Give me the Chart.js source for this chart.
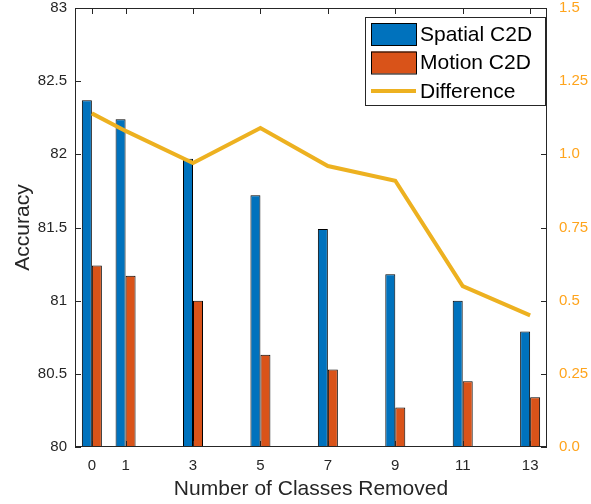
<!DOCTYPE html>
<html>
<head>
<meta charset="utf-8">
<script src="https://cdn.jsdelivr.net/npm/chart.js@4"></script>
<style>
  body { margin: 0; background: #fff; }
  canvas { display: block; }
</style>
</head>
<body>
<canvas id="chart" width="591" height="504"></canvas>
<script>
const classesRemoved = [0, 1, 3, 5, 7, 9, 11, 13];
const spatialAcc = [82.37, 82.24, 81.97, 81.72, 81.49, 81.18, 81.00, 80.79];
const motionAcc = [81.24, 81.17, 81.00, 80.63, 80.53, 80.27, 80.45, 80.34];
const difference = [1.14, 1.08, 0.97, 1.09, 0.96, 0.91, 0.55, 0.45];
const leftTicks = [80, 80.5, 81, 81.5, 82, 82.5, 83];
const leftTickLabels = ['80', '80.5', '81', '81.5', '82', '82.5', '83'];
const rightTicks = [0, 0.25, 0.5, 0.75, 1, 1.25, 1.5];
const rightTickLabels = ['0.0', '0.25', '0.5', '0.75', '1.0', '1.25', '1.5'];

const FONT = "'Liberation Sans', Arial, Helvetica, sans-serif";
const AXIS = '#262626';
const RIGHT = '#FFA41C';

const toPoints = (ys) => classesRemoved.map((x, i) => ({ x: x, y: ys[i] }));

// fixed axis sizes, and no extra padding for overhanging labels
const fixSize = (w, h) => (s) => {
    if (w) s.width = w;
    if (h) s.height = h;
    s.paddingTop = s.paddingBottom = s.paddingLeft = s.paddingRight = 0;
};

// box around the plot with inward tick marks, MATLAB style
const boxPlugin = {
    id: 'box',
    afterDatasetsDraw(chart) {
        const { ctx, chartArea: a, scales } = chart;
        const t = 6;
        ctx.save();
        ctx.strokeStyle = AXIS;
        ctx.lineWidth = 1;
        ctx.strokeRect(a.left + 0.5, a.top + 0.5, a.right - a.left - 1, a.bottom - a.top - 1);
        ctx.beginPath();
        classesRemoved.forEach(v => {
            const px = Math.round(scales.x.getPixelForValue(v)) + 0.5;
            ctx.moveTo(px, a.bottom); ctx.lineTo(px, a.bottom - t);
            ctx.moveTo(px, a.top); ctx.lineTo(px, a.top + t);
        });
        leftTicks.forEach(v => {
            const py = Math.round(scales.y.getPixelForValue(v)) + 0.5;
            ctx.moveTo(a.left, py); ctx.lineTo(a.left + t, py);
        });
        rightTicks.forEach(v => {
            const py = Math.round(scales.y2.getPixelForValue(v)) + 0.5;
            ctx.moveTo(a.right, py); ctx.lineTo(a.right - t, py);
        });
        ctx.stroke();

        // legend in the top right corner
        const lx = a.right - 182, ly = a.top + 9, lw = 181, lh = 89;
        ctx.fillStyle = '#fff';
        ctx.fillRect(lx, ly, lw, lh);
        ctx.strokeRect(lx + 0.5, ly + 0.5, lw - 1, lh - 1);
        ctx.font = '21px ' + FONT;
        ctx.textBaseline = 'middle';
        chart.data.datasets.forEach((ds, i) => {
            const cy = ly + 17 + i * 28.5;
            if (ds.type === 'line') {
                ctx.strokeStyle = ds.borderColor;
                ctx.lineWidth = 4;
                ctx.beginPath();
                ctx.moveTo(lx + 6, cy); ctx.lineTo(lx + 51, cy);
                ctx.stroke();
            } else {
                ctx.fillStyle = ds.backgroundColor;
                ctx.fillRect(lx + 6, cy - 11, 45, 22);
                ctx.strokeStyle = '#000';
                ctx.lineWidth = 1;
                ctx.strokeRect(lx + 6.5, cy - 10.5, 45, 22);
            }
            ctx.fillStyle = '#000';
            ctx.fillText(ds.label, lx + 55, cy + 1);
        });
        ctx.restore();
    }
};

new Chart(document.getElementById('chart'), {
    type: 'bar',
    data: {
        datasets: [
            {
                label: 'Spatial C2D',
                data: toPoints(spatialAcc),
                backgroundColor: '#0072BD',
                borderColor: '#000',
                borderWidth: 1,
                inflateAmount: 0,
                yAxisID: 'y'
            },
            {
                label: 'Motion C2D',
                data: toPoints(motionAcc),
                backgroundColor: '#D95319',
                borderColor: '#000',
                borderWidth: 1,
                inflateAmount: 0,
                yAxisID: 'y'
            },
            {
                type: 'line',
                label: 'Difference',
                data: toPoints(difference),
                borderColor: '#EDB120',
                borderWidth: 4,
                pointRadius: 0,
                tension: 0,
                yAxisID: 'y2',
                order: -1
            }
        ]
    },
    options: {
        responsive: false,
        animation: false,
        layout: { autoPadding: false, padding: { top: 8, left: 0, right: 0, bottom: 0 } },
        categoryPercentage: 0.593,
        barPercentage: 1.0,
        plugins: {
            legend: { display: false },
            tooltip: { enabled: false }
        },
        scales: {
            x: {
                type: 'linear',
                min: -0.5,
                max: 13.5,
                offset: false,
                grid: { display: false, drawTicks: false },
                border: { display: false },
                afterBuildTicks: (s) => { s.ticks = classesRemoved.map(v => ({ value: v })); },
                afterFit: fixSize(0, 57),
                ticks: {
                    autoSkip: false,
                    maxRotation: 0,
                    padding: 10,
                    color: AXIS,
                    font: { family: FONT, size: 15 },
                    callback: (v) => String(v)
                },
                title: {
                    display: true,
                    text: 'Number of Classes Removed',
                    color: AXIS,
                    font: { family: FONT, size: 21 },
                    padding: { top: 0, bottom: 2 }
                }
            },
            y: {
                position: 'left',
                min: 80,
                max: 83,
                grid: { display: false, drawTicks: false },
                border: { display: false },
                afterBuildTicks: (s) => { s.ticks = leftTicks.map(v => ({ value: v })); },
                afterFit: fixSize(75, 0),
                ticks: {
                    padding: 8,
                    color: AXIS,
                    font: { family: FONT, size: 15 },
                    callback: (v) => leftTickLabels[leftTicks.indexOf(v)]
                },
                title: {
                    display: true,
                    text: 'Accuracy',
                    color: AXIS,
                    font: { family: FONT, size: 21 },
                    padding: { top: 11, bottom: 0 }
                }
            },
            y2: {
                position: 'right',
                min: 0,
                max: 1.5,
                grid: { display: false, drawTicks: false },
                border: { display: false },
                afterBuildTicks: (s) => { s.ticks = rightTicks.map(v => ({ value: v })); },
                afterFit: fixSize(44, 0),
                ticks: {
                    padding: 12,
                    color: RIGHT,
                    font: { family: FONT, size: 15 },
                    callback: (v) => rightTickLabels[rightTicks.indexOf(v)]
                }
            }
        }
    },
    plugins: [boxPlugin]
});
</script>
</body>
</html>
